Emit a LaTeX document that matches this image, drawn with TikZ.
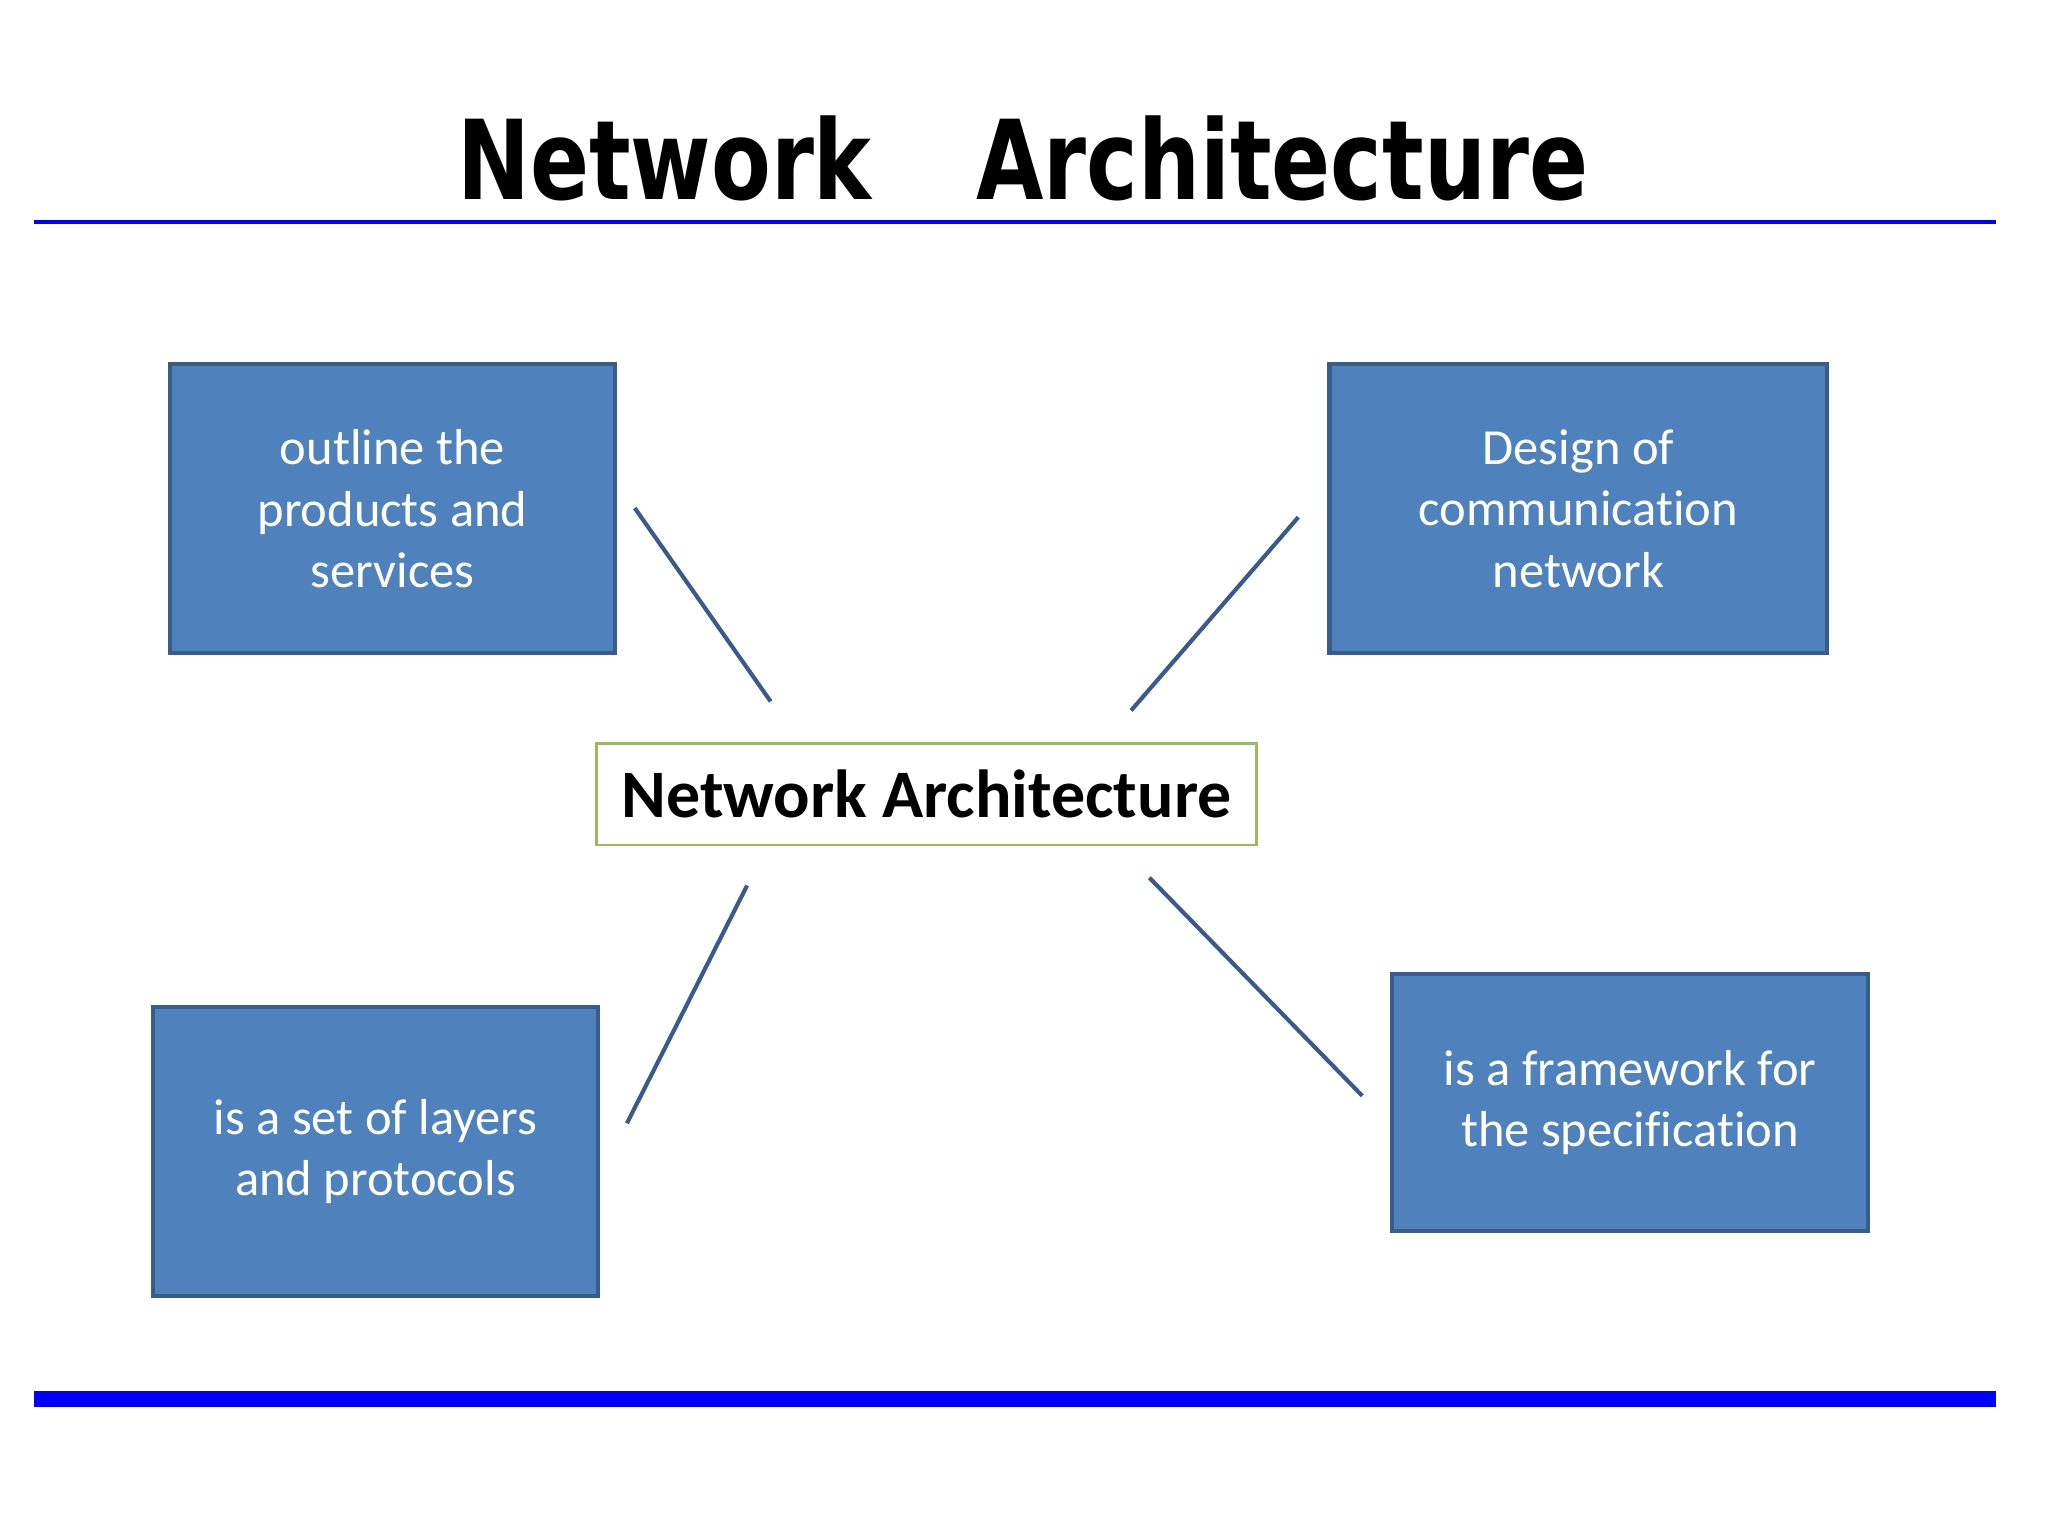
\documentclass[tikz,border=0pt]{standalone}
\usepackage{fontspec}
\setmainfont[Ligatures=NoCommon]{Carlito}
\newfontfamily\titlefont{DejaVu Sans}
\definecolor{boxfill}{HTML}{4F81BD}
\definecolor{boxedge}{HTML}{385D8A}
\definecolor{linkcol}{HTML}{3A5A8C}
\definecolor{greenedge}{HTML}{9BBB59}
\definecolor{rulecol}{HTML}{0000FF}
\begin{document}
\begin{tikzpicture}[x=0.01cm,y=-0.01cm,
  bluebox/.style={draw=boxedge,line width=0.9pt,fill=boxfill,text=white,
    align=center,inner sep=0pt,font=\fontsize{11}{13.4}\selectfont},
  centerbox/.style={draw=greenedge,line width=0.6pt,fill=white,inner sep=0pt,
    font=\fontsize{14.8}{17}\selectfont\bfseries},
  link/.style={draw=linkcol,line width=0.9pt}]
\useasboundingbox (0,0) rectangle (1568,1176);
\fill[white] (0,0) rectangle (1568,1176);
% title
\node[font=\titlefont\bfseries\fontsize{24}{28}\selectfont,anchor=base,inner sep=0pt] (title) at (783,153) {\scalebox{0.79}[1]{Network\hspace{1.2em}Architecture}};
% rules
\fill[rulecol] (26,168.5) rectangle (1528,171.5);
\fill[rulecol] (26,1065) rectangle (1528,1077);
% boxes
\node[bluebox,minimum width=3.41cm,minimum height=2.21cm] (tl) at (300.5,389.5) {outline the\\products and\\services};
\node[bluebox,minimum width=3.81cm,minimum height=2.21cm] (tr) at (1208.5,389.5) {Design of\\communication\\network};
\node[bluebox,minimum width=3.41cm,minimum height=2.21cm] (bl) at (287.5,881.5) {is a set of layers\\and protocols};
\node[bluebox,minimum width=3.64cm,minimum height=1.97cm] (br) at (1248,844) {is a framework for\\the specification};
\node[centerbox,minimum width=5.05cm,minimum height=0.78cm] (center) at (709.5,608) {Network Architecture};
% connector ends
\coordinate (a1) at (486,389); \coordinate (a2) at (590,537);
\coordinate (b1) at (994,396); \coordinate (b2) at (866,544);
\coordinate (c1) at (572,678); \coordinate (c2) at (480,860);
\coordinate (d1) at (880,672); \coordinate (d2) at (1043,839);
\draw[link] (a1) -- (a2);
\draw[link] (b1) -- (b2);
\draw[link] (c1) -- (c2);
\draw[link] (d1) -- (d2);
\end{tikzpicture}
\end{document}
